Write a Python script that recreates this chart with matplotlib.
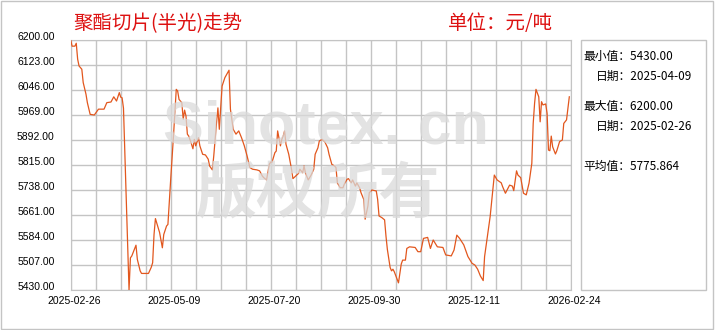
import matplotlib
matplotlib.use("Agg")
import matplotlib.pyplot as plt
from matplotlib.patches import Rectangle
from matplotlib.transforms import ScaledTranslation

# series position (observation index from 2025-02-26) and price, yuan/ton
obs = [0, 1, 3, 4, 5, 6, 8, 9, 11, 12, 14, 17, 20, 24, 26, 29, 31, 33, 35, 36,
       37, 38, 39, 40, 41, 42, 43, 44, 47, 48, 50, 51, 56, 58, 59, 60, 61, 63, 64, 66,
       67, 69, 70, 72, 74, 76, 77, 78, 80, 81, 82, 83, 84, 85, 87, 88, 89, 90, 92, 93,
       95, 97, 99, 100, 102, 103, 105, 106, 107, 109, 111, 114, 115, 117, 119, 121, 123, 125, 127, 129,
       131, 134, 136, 138, 139, 141, 143, 144, 145, 147, 148, 149, 151, 152, 153, 154, 155, 157, 159, 160,
       162, 164, 165, 167, 168, 169, 171, 173, 175, 176, 178, 179, 181, 183, 185, 186, 188, 190, 191, 192,
       194, 196, 197, 199, 200, 202, 203, 205, 206, 208, 209, 211, 212, 214, 215, 217, 220, 221, 222, 224,
       226, 227, 228, 230, 231, 232, 233, 235, 236, 238, 239, 241, 242, 244, 248, 250, 252, 254, 257, 259,
       261, 264, 268, 270, 274, 276, 278, 280, 283, 286, 289, 291, 293, 295, 297, 298, 300, 302, 305, 307,
       310, 311, 313, 316, 318, 319, 321, 322, 324, 326, 328, 330, 332, 333, 334, 335, 337, 338, 339, 340,
       342, 343, 344, 345, 346, 347, 349, 350, 352, 354, 355, 357, 359]
price = [6200, 6181, 6181, 6190, 6141, 6120, 6110, 6069, 6033, 6007, 5971, 5969, 5987, 5987, 6007, 6009, 6025, 6012, 6038, 6024,
         6022, 5990, 5850, 5700, 5560, 5430, 5529, 5535, 5568, 5524, 5489, 5481, 5481, 5500, 5514, 5601, 5650, 5622, 5607, 5560,
         5601, 5627, 5632, 5771, 5904, 6048, 6043, 6017, 6007, 5956, 5984, 5966, 5910, 5904, 5879, 5865, 5894, 5874, 5899, 5874,
         5848, 5846, 5833, 5812, 5800, 5843, 5945, 5991, 5925, 6058, 6084, 6107, 5987, 5925, 5910, 5920, 5899, 5874, 5843, 5807,
         5802, 5800, 5797, 5781, 5776, 5769, 5817, 5824, 5824, 5853, 5858, 5920, 5874, 5894, 5904, 5920, 5879, 5848, 5802, 5773,
         5781, 5789, 5802, 5791, 5812, 5791, 5769, 5783, 5802, 5848, 5868, 5889, 5894, 5886, 5868, 5848, 5817, 5812, 5807, 5760,
         5745, 5745, 5756, 5771, 5773, 5760, 5769, 5750, 5760, 5745, 5730, 5709, 5648, 5689, 5730, 5738, 5735, 5709, 5658, 5653,
         5646, 5596, 5555, 5499, 5489, 5494, 5486, 5463, 5452, 5510, 5522, 5522, 5558, 5563, 5561, 5548, 5548, 5589, 5592, 5558,
         5584, 5563, 5561, 5538, 5535, 5553, 5599, 5589, 5569, 5533, 5512, 5507, 5494, 5473, 5459, 5533, 5594, 5656, 5784, 5769,
         5760, 5748, 5728, 5753, 5750, 5736, 5797, 5784, 5776, 5728, 5723, 5759, 5820, 5943, 6005, 6048, 6025, 5948, 6010, 6000,
         6003, 5974, 5861, 5859, 5904, 5871, 5849, 5859, 5887, 5892, 5943, 5954, 6025]

tick_pos = [0, 72, 144, 216, 288, 360]
tick_dates = ['2025-02-26', '2025-05-09', '2025-07-20', '2025-09-30', '2025-12-11', '2026-02-24']
y_ticks = [5430 + 77 * i for i in range(11)]

title = '聚酯切片(半光)走势'
unit = '单位：元/吨'
stats = [('最小值：5430.00', 0), ('日期：2025-04-09', 1),
         ('最大值：6200.00', 0), ('日期：2025-02-26', 1),
         ('平均值：5775.864', 0)]

W, H = 720, 330
fig = plt.figure(figsize=(W / 100, H / 100), dpi=100)
cjk = ['Noto Sans CJK SC', 'DejaVu Sans']
grid_c = '#c4c4c4'

def fx(px):
    return px / W

def fy(py):
    return 1 - py / H

ax = fig.add_axes([fx(70.7), fy(290), fx(500), 250 / H])
ax.plot(obs, price, color='#e2571e', linewidth=0.9, zorder=3)
ax.set_xlim(0, 360)
ax.set_ylim(5430, 6200)
ax.set_xticks([i * 18 for i in range(21)])
ax.set_yticks(y_ticks)
ax.grid(True, color=grid_c, linewidth=1.0, zorder=0)
for s in ax.spines.values():
    s.set_color(grid_c)
ax.tick_params(length=0)

# grid every 18 obs; labels only at every 4th line
labels = []
for i in range(21):
    p = i * 18
    labels.append(tick_dates[tick_pos.index(p)] if p in tick_pos else '')
ax.set_xticklabels(labels, fontfamily='Liberation Sans', fontsize=7.5)
ax.set_yticklabels(['%.2f' % v for v in y_ticks], fontfamily='Liberation Sans', fontsize=7.5)
ax.tick_params(axis='x', pad=4)
ax.tick_params(axis='y', pad=11.5)
for lab in ax.get_xticklabels():
    lab.set_transform(lab.get_transform() + ScaledTranslation(3 / 100, 0, fig.dpi_scale_trans))
for lab in ax.get_yticklabels():
    lab.set_transform(lab.get_transform() + ScaledTranslation(0, 4 / 100, fig.dpi_scale_trans))

# watermark
fig.text(fx(326), fy(128), 'Sinotex. cn', fontsize=44, fontweight='bold', family='Liberation Sans',
         color='#dadada', alpha=0.75, ha='center', va='center', zorder=2)
fig.text(fx(318), fy(195), '版权所有', fontsize=44, fontweight='bold', family=cjk,
         color='#dadada', alpha=0.75, ha='center', va='center', zorder=2)

fig.text(fx(73), fy(24), title, fontsize=14, family=cjk, color='#dd1111', ha='left', va='center')
fig.text(fx(448), fy(24), unit, fontsize=14, family=cjk, color='#dd1111', ha='left', va='center')

# info box
fig.patches.append(Rectangle((fx(580.7), fy(290)), fx(125), 250 / H, transform=fig.transFigure,
                             fill=False, edgecolor=grid_c, linewidth=1.0))
rows_y = [56, 76, 106, 126, 166]
for (txt, indent), ry in zip(stats, rows_y):
    fig.text(fx(583 + 13 * indent), fy(ry), txt, fontsize=8.5, family=cjk, color='black',
             ha='left', va='center')

# outer frame
fig.patches.append(Rectangle((fx(1), fy(329)), fx(712), 328 / H, transform=fig.transFigure,
                             fill=False, edgecolor=grid_c, linewidth=1.0))

fig.savefig('out.png', dpi=100)
